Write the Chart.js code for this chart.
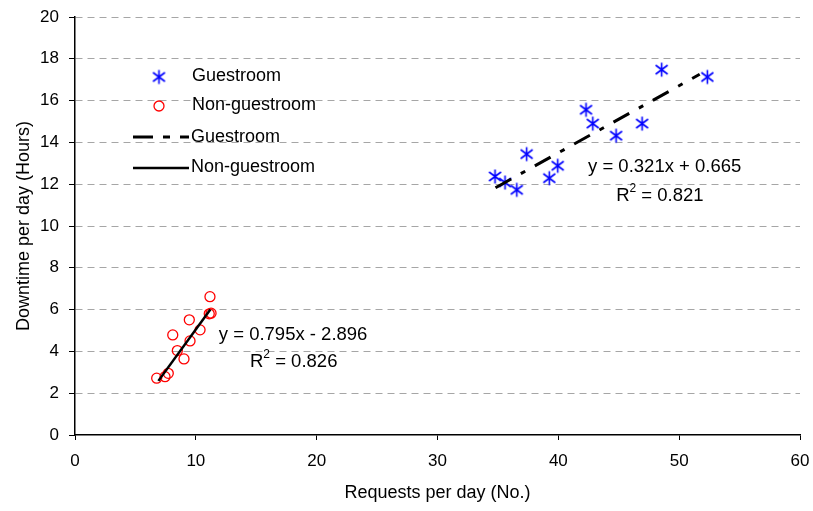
<!DOCTYPE html>
<html>
<head>
<meta charset="utf-8">
<script src="https://cdn.jsdelivr.net/npm/chart.js@4.4.0/dist/chart.umd.min.js"></script>
<style>
html, body { margin: 0; padding: 0; background: #fff; }
#wrap { width: 813px; height: 511px; }
</style>
</head>
<body>
<div id="wrap"><canvas id="chart1" width="813" height="511"></canvas></div>
<script>
// values
const guest_x = [34.76, 35.59, 36.56, 37.38, 39.25, 39.95, 42.29, 42.85, 44.78, 46.93, 48.55, 52.33];
const guest_y = [12.37, 12.08, 11.73, 13.44, 12.29, 12.88, 15.56, 14.90, 14.32, 14.90, 17.48, 17.13];
const nonguest_x = [11.17, 11.11, 11.26, 9.46, 10.35, 8.09, 9.52, 8.47, 9.02, 7.72, 7.45, 6.76];
const nonguest_y = [6.62, 5.80, 5.83, 5.51, 5.03, 4.79, 4.50, 4.04, 3.64, 2.95, 2.79, 2.72];

// trend line ends
const guest_fit_x = [34.8, 51.7];
const guest_fit_y = [11.83, 17.26];
const nonguest_fit_x = [6.9, 11.2];
const nonguest_fit_y = [2.59, 6.01];

const x_ticks = [0, 10, 20, 30, 40, 50, 60];
const y_ticks = [0, 2, 4, 6, 8, 10, 12, 14, 16, 18, 20];

const series_names = ['Guestroom', 'Non-guestroom'];
const guest_eq = ['y = 0.321x + 0.665', '0.821'];
const nonguest_eq = ['y = 0.795x - 2.896', '0.826'];

const FONT = '"Liberation Sans", Arial, sans-serif';
const DASH_DOT = [18, 11, 5, 11];

function to_points(xs, ys) {
    return xs.map((x, i) => ({x: x, y: ys[i]}));
}

// blue asterisk marker (x plus vertical bar)
function make_star() {
    const c = document.createElement('canvas');
    c.width = 17;
    c.height = 17;
    const g = c.getContext('2d');
    g.strokeStyle = '#0000ff';
    g.lineWidth = 1.6;
    g.beginPath();
    g.moveTo(8.5, 1.5); g.lineTo(8.5, 15.5);
    g.moveTo(2.5, 4); g.lineTo(14.5, 13);
    g.moveTo(2.5, 13); g.lineTo(14.5, 4);
    g.stroke();
    return c;
}
const star = make_star();

function draw_eq(chart, lines, x1, y1, x2, y2) {
    const ctx = chart.ctx;
    const sx = chart.scales.x, sy = chart.scales.y;
    const big = '18.5px ' + FONT, small = '12px ' + FONT;
    ctx.font = big;
    ctx.fillText(lines[0], sx.getPixelForValue(x1), sy.getPixelForValue(y1));
    // R² line with a small raised 2
    const rest = ' = ' + lines[1];
    const w_r = ctx.measureText('R').width;
    const w_rest = ctx.measureText(rest).width;
    ctx.font = small;
    const w_2 = ctx.measureText('2').width;
    const total = w_r + w_2 + w_rest;
    let px = sx.getPixelForValue(x2) - total / 2;
    const py = sy.getPixelForValue(y2);
    ctx.textAlign = 'left';
    ctx.font = big;
    ctx.fillText('R', px, py);
    px += w_r;
    ctx.font = small;
    ctx.fillText('2', px, py - 7);
    px += w_2;
    ctx.font = big;
    ctx.fillText(rest, px, py);
    ctx.textAlign = 'center';
}

const text_plugin = {
    id: 'text_plugin',
    afterDraw(chart) {
        const ctx = chart.ctx;
        ctx.save();
        ctx.fillStyle = '#000';
        ctx.textBaseline = 'middle';

        // legend inside the plot
        ctx.drawImage(star, 159 - star.width / 2, 77 - star.height / 2);
        ctx.strokeStyle = '#ff0000';
        ctx.lineWidth = 1.3;
        ctx.beginPath();
        ctx.arc(159, 106, 5, 0, Math.PI * 2);
        ctx.stroke();

        ctx.strokeStyle = '#000';
        ctx.lineWidth = 3;
        ctx.setLineDash([20, 10, 7, 10]);
        ctx.beginPath();
        ctx.moveTo(133, 137); ctx.lineTo(189, 137);
        ctx.stroke();
        ctx.setLineDash([]);
        ctx.lineWidth = 2.5;
        ctx.beginPath();
        ctx.moveTo(133, 168); ctx.lineTo(189, 168);
        ctx.stroke();

        ctx.font = '18px ' + FONT;
        ctx.textAlign = 'left';
        ctx.fillText(series_names[0], 192, 76);
        ctx.fillText(series_names[1], 192, 105);
        ctx.fillText(series_names[0], 191, 137);
        ctx.fillText(series_names[1], 191, 167);

        // regression equations
        ctx.textAlign = 'center';
        draw_eq(chart, guest_eq, 48.8, 12.84, 48.4, 11.45);
        draw_eq(chart, nonguest_eq, 18.05, 4.79, 18.1, 3.5);
        ctx.restore();
    }
};

const chart1_cfg = {
    type: 'scatter',
    data: {
        datasets: [
            {
                label: series_names[0],
                data: to_points(guest_x, guest_y),
                pointStyle: star,
                pointRadius: 8,
                borderColor: '#0000ff',
                order: 1
            },
            {
                label: series_names[1],
                data: to_points(nonguest_x, nonguest_y),
                pointStyle: 'circle',
                pointRadius: 5,
                pointBorderWidth: 1.3,
                borderColor: '#ff0000',
                backgroundColor: 'rgba(0,0,0,0)',
                order: 2
            },
            {
                label: series_names[0] + ' fit',
                data: to_points(guest_fit_x, guest_fit_y),
                showLine: true,
                pointRadius: 0,
                borderColor: '#000',
                borderWidth: 3,
                borderDash: DASH_DOT,
                borderCapStyle: 'butt',
                order: 0
            },
            {
                label: series_names[1] + ' fit',
                data: to_points(nonguest_fit_x, nonguest_fit_y),
                showLine: true,
                pointRadius: 0,
                borderColor: '#000',
                borderWidth: 2.5,
                order: 0
            }
        ]
    },
    options: {
        responsive: false,
        animation: false,
        devicePixelRatio: 1,
        events: [],
        layout: {
            padding: {top: 17, right: 13, left: 0, bottom: 0}
        },
        plugins: {
            legend: {display: false},
            tooltip: {enabled: false}
        },
        scales: {
            x: {
                type: 'linear',
                min: 0,
                max: 60,
                afterBuildTicks: s => { s.ticks = x_ticks.map(v => ({value: v})); },
                afterFit: s => { s.height = 76; s.paddingLeft = 0; s.paddingRight = 0; },
                grid: {
                    drawOnChartArea: false,
                    tickLength: 5,
                    tickColor: '#000'
                },
                border: {color: '#000', width: 1.5},
                ticks: {
                    color: '#000',
                    padding: 11,
                    maxRotation: 0,
                    font: {family: FONT, size: 17}
                },
                title: {
                    display: true,
                    text: 'Requests per day (No.)',
                    color: '#000',
                    padding: {top: 0, bottom: 7},
                    font: {family: FONT, size: 18}
                }
            },
            y: {
                type: 'linear',
                min: 0,
                max: 20,
                afterBuildTicks: s => { s.ticks = y_ticks.map(v => ({value: v})); },
                afterFit: s => { s.width = 75; s.paddingTop = 0; s.paddingBottom = 0; },
                grid: {
                    color: c => (c.tick && c.tick.value === 0) ? 'rgba(0,0,0,0)' : '#a6a6a6',
                    tickLength: 6,
                    tickColor: '#000'
                },
                border: {color: '#000', width: 1.5, dash: [7, 5]},
                ticks: {
                    color: '#000',
                    padding: 10,
                    font: {family: FONT, size: 17}
                },
                title: {
                    display: true,
                    text: 'Downtime per day (Hours)',
                    color: '#000',
                    padding: {top: 13, bottom: 0},
                    font: {family: FONT, size: 18}
                }
            }
        }
    },
    plugins: [text_plugin]
};

const chart1_ctx = document.getElementById('chart1').getContext('2d');
let chart1 = new Chart(chart1_ctx, chart1_cfg);
</script>
</body>
</html>
